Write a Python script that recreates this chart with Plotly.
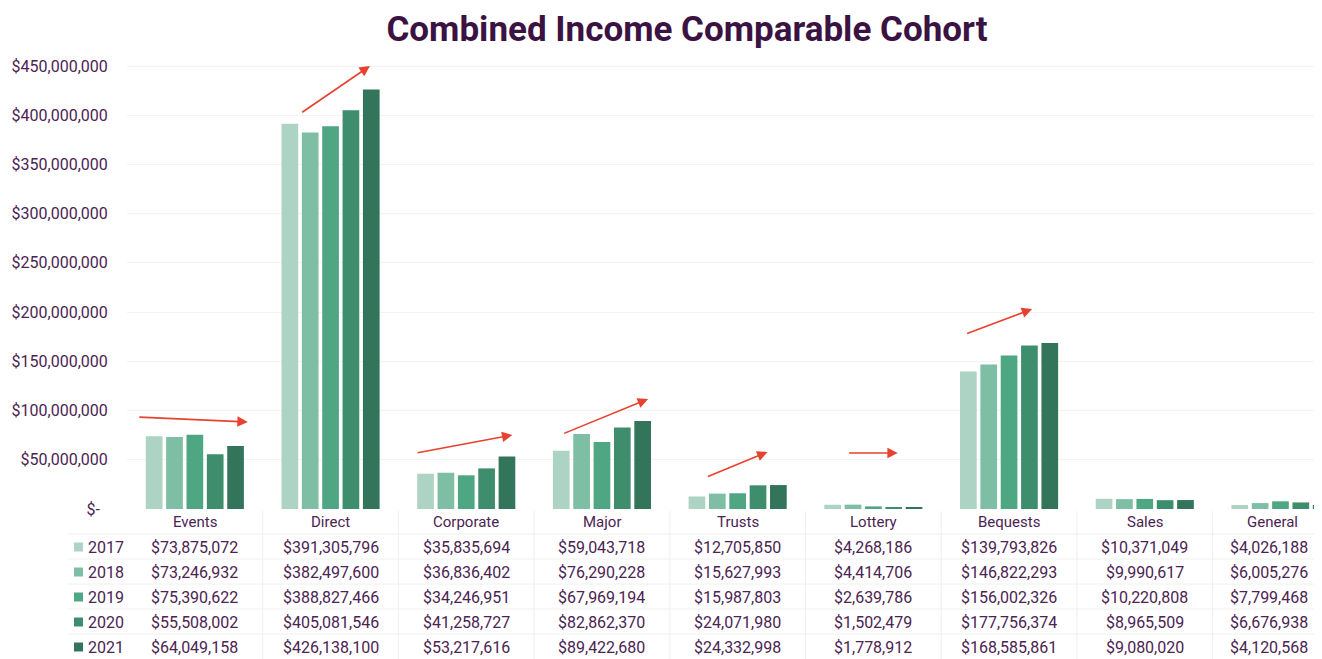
import plotly.graph_objects as go

categories = ["Events", "Direct", "Corporate", "Major", "Trusts", "Lottery", "Bequests", "Sales", "General"]
years = ["2017", "2018", "2019", "2020", "2021"]
# values printed in the data table
v2017 = [73875072, 391305796, 35835694, 59043718, 12705850, 4268186, 139793826, 10371049, 4026188]
v2018 = [73246932, 382497600, 36836402, 76290228, 15627993, 4414706, 146822293, 9990617, 6005276]
v2019 = [75390622, 388827466, 34246951, 67969194, 15987803, 2639786, 156002326, 10220808, 7799468]
v2020 = [55508002, 405081546, 41258727, 82862370, 24071980, 1502479, 177756374, 8965509, 6676938]
v2021 = [64049158, 426138100, 53217616, 89422680, 24332998, 1778912, 168585861, 9080020, 4120568]
table_series = [v2017, v2018, v2019, v2020, v2021]
# bar heights as drawn in the picture (Bequests 2020 bar is drawn lower than its table value)
bar2020 = [55508002, 405081546, 41258727, 82862370, 24071980, 1502479, 166000000, 8965509, 6676938]
bar_series = [v2017, v2018, v2019, bar2020, v2021]
colors = ["#acd3c3", "#7dbea5", "#4fa683", "#3e8e6e", "#32755a"]

tick_vals = [0, 50e6, 100e6, 150e6, 200e6, 250e6, 300e6, 350e6, 400e6, 450e6]
tick_text = ["$-  "] + ["${:,.0f}".format(v) for v in tick_vals[1:]]

# trend arrows: (start category pos, start value, end category pos, end value)
arrows = [
    (-0.42, 93.4e6, 0.39, 88.4e6),
    (0.78, 402e6, 1.29, 450e6),
    (1.63, 56.9e6, 2.34, 75.2e6),
    (2.71, 76.2e6, 3.34, 111.7e6),
    (3.77, 32.5e6, 4.22, 57.9e6),
    (4.81, 56.9e6, 5.18, 56.9e6),
    (5.68, 177.8e6, 6.17, 203.2e6),
]

PURPLE = "#4b2452"
FONT = "Roboto"

OFF = 8  # page body margin
W, H = 1322 - OFF, 659 - OFF
ml, mt, mb = 127 - OFF, 56 - OFF, 150
ph = H - mt - mb
pw = W - ml
ZERO_PX = 509  # screen px of the x axis

def py2paper(py):
    return (ZERO_PX - py) / ph

def px2paper(px):
    return (px - 127) / pw

fig = go.Figure()
for yr, vals, c in zip(years, bar_series, colors):
    fig.add_trace(go.Bar(name=yr, x=list(range(len(categories))), y=vals,
                         marker=dict(color=c, line=dict(width=0))))

annotations = []
for (x0, y0, x1, y1) in arrows:
    annotations.append(dict(x=x1, y=y1, ax=x0, ay=y0, xref="x", yref="y", axref="x", ayref="y",
                            showarrow=True, arrowhead=2, arrowsize=1.3, arrowwidth=1.6,
                            arrowcolor="#e8412f", text=""))

col_shift = [0, 0, 0, 0, 0, 0, 0, 0, -11]
for i, cat in enumerate(categories):
    annotations.append(dict(x=i, y=0, xref="x", yref="paper", xanchor="center", yanchor="middle",
                            xshift=col_shift[i] + (3 if i == 8 else 0), yshift=-13, showarrow=False, text=cat,
                            font=dict(family=FONT, size=15, color=PURPLE)))

row_offsets = [38, 63, 88, 113, 138]
shapes = []
for r, (yr, vals, c) in enumerate(zip(years, table_series, colors)):
    yc = ZERO_PX + row_offsets[r]
    shapes.append(dict(type="rect", xref="paper", yref="paper",
                       x0=px2paper(74), x1=px2paper(83), y0=py2paper(yc + 4.5), y1=py2paper(yc - 4.5),
                       fillcolor=c, line=dict(width=0)))
    annotations.append(dict(x=0, y=0, xref="paper", yref="paper", xanchor="left", yanchor="middle",
                            xshift=86 - 127, yshift=-row_offsets[r], showarrow=False, text=yr,
                            font=dict(family=FONT, size=16, color=PURPLE)))
    for i, v in enumerate(vals):
        annotations.append(dict(x=i, y=0, xref="x", yref="paper", xanchor="center", yanchor="middle",
                                xshift=col_shift[i], yshift=-row_offsets[r], showarrow=False,
                                text="${:,}".format(v),
                                font=dict(family=FONT, size=16, color=PURPLE)))

for k in range(len(categories) - 1):
    shapes.append(dict(type="line", xref="x", yref="paper", x0=k + 0.5, x1=k + 0.5,
                       y0=py2paper(511), y1=py2paper(659), line=dict(color="#f0eef0", width=1)))
for py in [534, 559, 584, 609, 634]:
    shapes.append(dict(type="line", xref="paper", yref="paper", x0=px2paper(68), x1=1,
                       y0=py2paper(py), y1=py2paper(py), line=dict(color="#f2f0f2", width=1)))

fig.update_layout(
    width=W, height=H,
    margin=dict(l=ml, r=0, t=mt, b=mb),
    paper_bgcolor="white", plot_bgcolor="white",
    barmode="group", bargap=0.25, bargroupgap=0.18,
    showlegend=False,
    title=dict(text="Combined Income Comparable Cohort", x=(687 - OFF) / W, xanchor="center",
               y=1 - (29 - OFF) / H, yanchor="middle",
               font=dict(family=FONT, size=35, color="#3b1343", weight=700)),
    xaxis=dict(tickmode="array", tickvals=list(range(len(categories))), ticktext=[""] * len(categories),
               range=[-0.5, 8.306], showgrid=False, zeroline=False, showline=False, ticks=""),
    yaxis=dict(tickvals=tick_vals, ticktext=tick_text, range=[0, 453 / 443 * 450e6],
               showgrid=True, gridcolor="#f3f3f3", zeroline=False, showline=False,
               ticks="outside", ticklen=15, tickcolor="rgba(0,0,0,0)",
               tickfont=dict(family=FONT, size=16, color=PURPLE)),
    annotations=annotations,
    shapes=shapes,
)

fig.write_html("out.html")
